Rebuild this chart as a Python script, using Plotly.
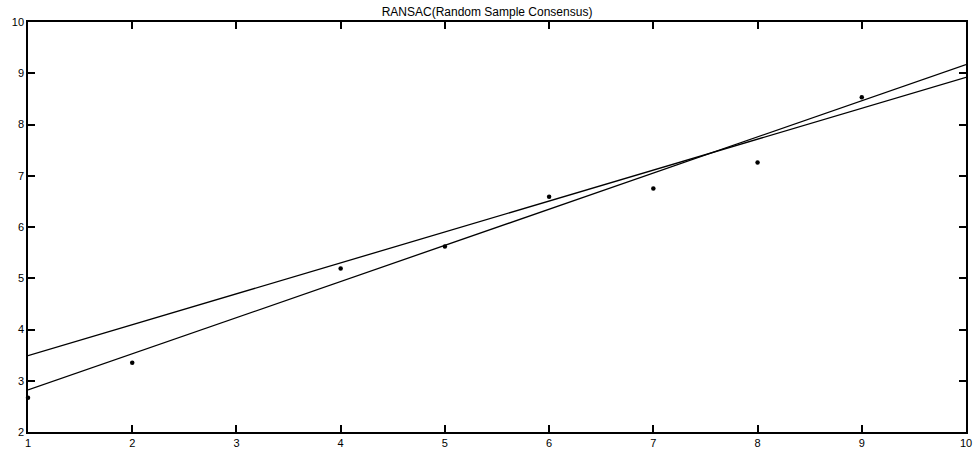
import plotly.graph_objects as go

# data points
pts_x = [1, 2, 4, 5, 6, 7, 8, 9]
pts_y = [2.67, 3.35, 5.19, 5.62, 6.59, 6.75, 7.26, 8.53]

# fitted lines (endpoints at x=1 and x=10)
line_x = [1, 10]
fit_a_y = [2.82, 9.17]
fit_b_y = [3.49, 8.92]

x_ticks = [1, 2, 3, 4, 5, 6, 7, 8, 9, 10]
y_ticks = [2, 3, 4, 5, 6, 7, 8, 9, 10]

fig = go.Figure()
fig.add_trace(go.Scatter(x=line_x, y=fit_a_y, mode="lines",
                         line=dict(color="black", width=1.3), showlegend=False))
fig.add_trace(go.Scatter(x=line_x, y=fit_b_y, mode="lines",
                         line=dict(color="black", width=1.3), showlegend=False))
fig.add_trace(go.Scatter(x=pts_x, y=pts_y, mode="markers",
                         marker=dict(color="black", size=4.5), showlegend=False,
                         cliponaxis=False))

axis_common = dict(showgrid=False, zeroline=False, showline=True, linecolor="black",
                   linewidth=1.5, mirror="ticks", ticks="inside", ticklen=7,
                   tickcolor="black", tickwidth=1.5, automargin=False,
                   tickfont=dict(family="Liberation Sans, Arial", size=11, color="black"))

fig.update_layout(
    width=974, height=451,
    margin=dict(l=28, r=8, t=22, b=19, autoexpand=False),
    paper_bgcolor="white", plot_bgcolor="white",
    title=dict(text="RANSAC(Random Sample Consensus)", x=0.5, xanchor="center",
               y=1 - 12 / 451, yanchor="middle", automargin=False,
               font=dict(family="Liberation Sans, Arial", size=12, color="black")),
    xaxis=dict(range=[1, 10], tickvals=x_ticks, ticklabeloverflow="allow", **axis_common),
    yaxis=dict(range=[2, 10], tickvals=y_ticks, ticklabeloverflow="allow", **axis_common),
)
fig.write_html("out.html", config={"displayModeBar": False},
               post_script="document.body.style.margin='0';document.body.style.overflow='hidden';")
